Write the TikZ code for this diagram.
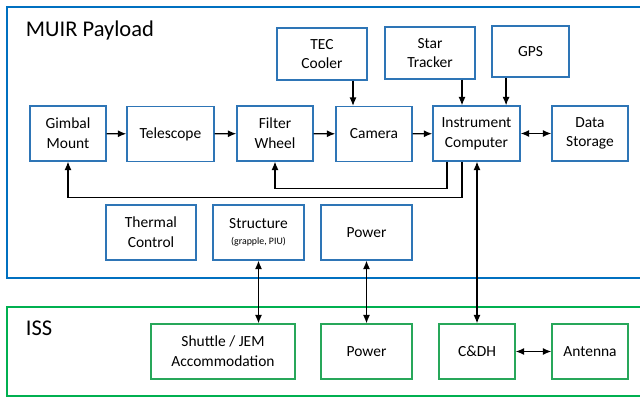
\documentclass[tikz,border=0pt]{standalone}
\usepackage{fontspec}
\usetikzlibrary{arrows.meta}
\setmainfont{Carlito}
\definecolor{frameblue}{RGB}{0,112,192}
\definecolor{boxblue}{RGB}{46,117,182}
\definecolor{framegreen}{RGB}{0,176,80}
\definecolor{boxgreen}{RGB}{40,167,90}

\begin{document}
\begin{tikzpicture}[x=0.025cm, y=-0.025cm,
                    payload/.style={draw=boxblue, line width=1pt, fill=white, align=center, minimum height=1.37cm, inner sep=1pt, font=\fontsize{11}{14}\selectfont},
                    iss/.style={payload, draw=boxgreen},
                    link/.style={-{Latex[length=6pt,width=5pt]}, line width=0.9pt},
                    both/.style={{Latex[length=6pt,width=5pt]}-{Latex[length=6pt,width=5pt]}, line width=0.9pt}]
                    \useasboundingbox (0,0) rectangle (640,399);
                    % frames
                    \draw[frameblue, line width=2pt] (660,7) -| (7,278) -- (660,278);
                    \draw[framegreen, line width=2pt] (660,307) -| (7,396) -- (660,396);
                    \node[anchor=west, font=\fontsize{16}{18}\selectfont] (title) at (21,31) {MUIR Payload};
                    \node[anchor=west, font=\fontsize{16}{18}\selectfont] (isstitle) at (21,328) {ISS};

                    % payload
                    \node[payload, minimum width=1.9cm] (gimbal) at (68,133.5) {Gimbal\\Mount};
                    \node[payload, minimum width=2.175cm] (telescope) at (170.5,134) {Telescope};
                    \node[payload, minimum width=1.9cm] (filter) at (275,133.5) {Filter\\Wheel};
                    \node[payload, minimum width=1.9cm] (camera) at (374,134) {Camera};
                    \node[payload, minimum width=2.175cm] (computer) at (476.5,133.5) {Instrument\\Computer};
                    \node[payload, minimum width=1.9cm] (storage) at (590,133.5) {Data\\Storage};
                    \node[payload, minimum width=2.25cm, minimum height=1.3cm] (tec) at (322,54) {TEC\\Cooler};
                    \node[payload, minimum width=2.25cm, minimum height=1.3cm] (tracker) at (430,53) {Star\\Tracker};
                    \node[payload, minimum width=1.925cm, minimum height=1.275cm] (gps) at (530.5,51.5) {GPS};
                    \node[payload, minimum width=2.25cm] (thermal) at (151,232.5) {Thermal\\Control};
                    \node[payload, minimum width=2.275cm] (structure) at (258.5,232.5) {Structure\\[-3pt]{\fontsize{7}{8}\selectfont (grapple, PIU)}};
                    \node[payload, minimum width=2.275cm] (power) at (366.5,232.5) {Power};

                    % iss
                    \node[iss, minimum width=3.6cm] (shuttle) at (223,351.5) {Shuttle / JEM\\Accommodation};
                    \node[iss, minimum width=2.275cm] (issPower) at (366.5,351.5) {Power};
                    \node[iss, minimum width=1.9cm] (cdh) at (477,351.5) {C\&DH};
                    \node[iss, minimum width=1.9cm] (antenna) at (590,351.5) {Antenna};

                    % connectors
                    \draw[link] (gimbal) -- (telescope);
                    \draw[link] (telescope) -- (filter);
                    \draw[link] (filter) -- (camera);
                    \draw[link] (camera) -- (computer);
                    \draw[both] (computer) -- (storage);
                    \draw[link] ([xshift=0.775cm]tec.south) -- ([xshift=0.775cm]tec.south |- camera.north);
                    \draw[link] ([xshift=0.8cm]tracker.south) -- ([xshift=0.8cm]tracker.south |- computer.north);
                    \draw[link] ([xshift=-0.61cm]gps.south) -- ([xshift=-0.61cm]gps.south |- computer.north);
                    \draw[link] ([xshift=-0.74cm]computer.south) -- ++(0,27) -| (filter.south);
                    \draw[link] ([xshift=-0.36cm]computer.south) -- ++(0,36) -| (gimbal.south);
                    \draw[both] (cdh.north |- computer.south) -- (cdh.north);
                    \draw[both] (structure.south) -- (structure.south |- shuttle.north);
                    \draw[both] (power) -- (issPower);
                    \draw[both] (cdh) -- (antenna);
                    %反馈%
                \end{tikzpicture}
\end{document}
